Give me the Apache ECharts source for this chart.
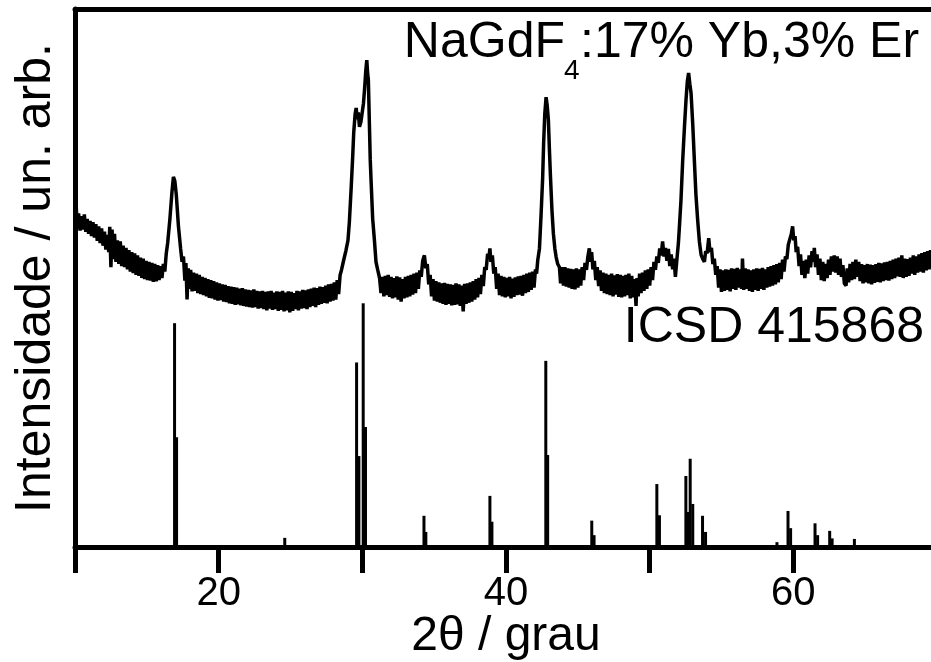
<!DOCTYPE html>
<html>
<head>
<meta charset="utf-8">
<script src="https://cdn.jsdelivr.net/npm/echarts@6/dist/echarts.min.js"></script>
<style>
html,body{margin:0;padding:0;background:#fff;overflow:hidden;}
#chart{width:931px;height:662px;}
</style>
</head>
<body>
<div id="chart"></div>
<script>
// ---- data ----
var xTicks = [20, 40, 60];
var xLabelName = '2\u03b8 / grau';
var yLabelName = 'Intensidade / un. arb.';
var sampleLabelMain = 'NaGdF';
var sampleLabelSub = '4';
var sampleLabelRest = ':17% Yb,3% Er';
var refLabel = 'ICSD 415868';

// measured XRD pattern [2theta, intensity (arb.)]
var xrdPattern = [
[10.0,61.0],[10.08,63.5],[10.16,59.2],[10.25,62.0],[10.35,58.8],[10.45,61.5],[10.55,59.0],[10.65,61.8],[10.75,58.6],[10.85,61.0],
[10.95,58.2],[11.05,60.6],[11.15,57.8],[11.25,60.4],[11.35,57.5],[11.45,60.0],[11.55,56.9],[11.65,59.6],[11.75,56.5],[11.85,59.2],
[11.95,56.0],[12.05,58.6],[12.15,55.3],[12.25,58.0],[12.35,54.8],[12.42,59.5],[12.5,52.0],[12.58,59.0],[12.66,53.5],[12.75,58.2],
[12.85,53.0],[12.95,57.0],[13.05,52.6],[13.15,56.8],[13.25,52.2],[13.35,56.0],[13.45,52.0],[13.55,55.6],[13.65,51.6],[13.75,55.2],
[13.85,51.2],[13.95,54.8],[14.05,50.9],[14.15,54.6],[14.25,50.6],[14.35,54.2],[14.45,50.4],[14.55,53.8],[14.65,50.0],[14.75,53.6],
[14.85,49.8],[14.95,53.2],[15.05,49.6],[15.15,53.0],[15.25,49.5],[15.35,52.8],[15.45,49.3],[15.55,52.6],[15.65,49.4],[15.75,52.4],
[15.85,49.6],[15.95,52.2],[16.05,50.0],[16.15,52.6],[16.25,51.2],[16.35,54.5],[16.45,56.5],[16.6,60.8],[16.75,66.0],[16.85,68.8],
[16.95,68.0],[17.05,65.5],[17.2,59.6],[17.35,55.5],[17.45,53.0],[17.55,54.0],[17.65,49.5],[17.72,52.8],[17.8,46.0],[17.88,51.8],
[17.96,48.0],[18.05,51.5],[18.15,47.5],[18.25,51.0],[18.35,47.6],[18.45,50.8],[18.55,47.2],[18.65,50.6],[18.75,47.0],[18.85,50.2],
[18.95,46.8],[19.05,50.0],[19.15,46.6],[19.25,49.8],[19.35,46.3],[19.45,49.6],[19.55,46.2],[19.65,49.4],[19.75,46.0],[19.85,49.2],
[19.95,45.8],[20.05,49.0],[20.15,45.9],[20.25,48.8],[20.35,45.6],[20.45,48.7],[20.55,45.5],[20.65,48.5],[20.75,45.3],[20.85,48.4],
[20.95,45.2],[21.05,48.3],[21.15,45.0],[21.25,48.2],[21.35,45.1],[21.45,48.0],[21.55,44.9],[21.65,48.1],[21.75,44.8],[21.85,47.9],
[21.95,44.7],[22.05,47.8],[22.15,44.6],[22.25,47.7],[22.35,44.5],[22.45,47.9],[22.55,44.6],[22.65,47.6],[22.75,44.3],[22.85,47.5],
[22.95,44.4],[23.05,47.6],[23.15,44.2],[23.25,47.4],[23.35,44.0],[23.45,47.5],[23.55,44.3],[23.65,47.6],[23.75,44.1],[23.85,47.3],
[23.95,44.2],[24.05,47.5],[24.15,43.9],[24.25,47.4],[24.35,44.1],[24.45,47.6],[24.55,43.8],[24.65,47.3],[24.75,44.0],[24.85,47.5],
[24.95,43.6],[25.05,47.4],[25.15,43.9],[25.25,47.2],[25.35,44.2],[25.45,47.6],[25.55,44.0],[25.65,47.5],[25.75,44.3],[25.85,47.8],
[25.95,44.4],[26.05,47.7],[26.15,44.2],[26.25,47.9],[26.35,44.6],[26.45,48.0],[26.55,44.8],[26.65,48.2],[26.75,44.6],[26.85,48.1],
[26.95,45.0],[27.05,48.4],[27.15,45.2],[27.25,48.3],[27.35,45.4],[27.45,48.6],[27.55,45.3],[27.65,48.8],[27.75,45.6],[27.85,48.9],
[27.95,45.8],[28.05,49.2],[28.15,46.0],[28.25,49.6],[28.35,47.0],[28.45,50.5],[28.55,51.5],[28.7,53.3],[28.85,55.0],[29.0,57.0],
[29.1,60.5],[29.22,66.6],[29.32,72.0],[29.4,77.0],[29.5,80.5],[29.57,81.6],[29.65,79.5],[29.72,80.8],[29.8,78.1],[29.9,79.0],
[29.99,78.8],[30.08,82.5],[30.15,84.9],[30.24,88.5],[30.31,90.5],[30.37,88.0],[30.42,86.8],[30.49,78.8],[30.55,72.0],[30.61,68.0],
[30.72,61.0],[30.84,57.1],[30.95,53.0],[31.07,51.5],[31.2,50.0],[31.3,47.2],[31.4,50.2],[31.5,46.6],[31.6,50.4],[31.7,46.8],
[31.8,50.6],[31.9,46.5],[32.0,50.2],[32.1,46.2],[32.2,50.0],[32.3,46.4],[32.4,50.3],[32.5,46.0],[32.6,50.1],[32.7,45.6],
[32.8,49.8],[32.9,46.2],[33.0,50.2],[33.1,46.4],[33.2,50.4],[33.3,46.6],[33.4,50.6],[33.5,46.9],[33.6,50.8],[33.7,47.2],
[33.8,51.0],[33.9,48.0],[34.0,51.4],[34.1,50.2],[34.2,53.2],[34.32,54.2],[34.42,51.8],[34.52,52.6],[34.62,48.8],[34.72,50.6],
[34.82,46.6],[34.92,49.8],[35.02,45.8],[35.12,49.4],[35.22,45.6],[35.32,49.2],[35.42,45.4],[35.52,49.0],[35.62,45.2],[35.72,49.1],
[35.82,45.0],[35.92,48.9],[36.02,45.2],[36.12,48.8],[36.22,44.9],[36.32,48.7],[36.42,45.0],[36.52,49.0],[36.62,45.1],[36.72,48.8],
[36.82,44.8],[36.92,48.6],[37.02,43.8],[37.12,48.9],[37.22,45.2],[37.32,49.0],[37.42,45.4],[37.52,49.2],[37.62,45.6],[37.72,49.4],
[37.82,46.0],[37.92,49.8],[38.02,46.4],[38.12,50.0],[38.22,47.0],[38.32,50.6],[38.42,48.5],[38.52,52.0],[38.62,51.5],[38.72,54.5],
[38.82,54.0],[38.88,55.5],[38.95,53.0],[39.05,54.2],[39.15,50.8],[39.25,52.0],[39.35,48.0],[39.45,50.8],[39.55,46.8],[39.65,50.4],
[39.75,46.6],[39.85,50.2],[39.95,46.4],[40.05,50.0],[40.15,46.6],[40.25,50.2],[40.35,46.2],[40.45,49.9],[40.55,46.5],[40.65,50.1],
[40.75,46.8],[40.85,50.3],[40.95,46.9],[41.05,50.4],[41.15,46.7],[41.25,50.6],[41.35,47.2],[41.45,50.8],[41.55,47.4],[41.65,51.0],
[41.75,47.8],[41.85,51.2],[41.95,48.2],[42.05,51.6],[42.13,50.8],[42.21,53.3],[42.33,55.5],[42.44,61.7],[42.55,68.5],[42.62,75.1],
[42.7,80.5],[42.79,83.6],[42.87,82.0],[42.95,79.4],[43.02,74.0],[43.09,69.2],[43.2,62.5],[43.3,58.2],[43.4,55.5],[43.49,53.9],
[43.6,52.6],[43.72,52.0],[43.8,49.0],[43.9,52.0],[44.0,48.6],[44.1,52.0],[44.2,48.4],[44.3,51.8],[44.4,48.2],[44.5,51.7],
[44.6,48.0],[44.7,51.6],[44.8,47.9],[44.9,51.8],[45.0,48.2],[45.1,51.6],[45.2,48.6],[45.3,52.0],[45.4,49.6],[45.5,52.8],
[45.6,51.5],[45.7,54.0],[45.8,55.5],[45.88,53.0],[45.96,54.8],[46.05,51.6],[46.15,53.2],[46.25,49.6],[46.35,52.0],[46.45,48.5],
[46.55,51.4],[46.65,47.6],[46.75,51.0],[46.85,47.2],[46.95,50.8],[47.05,47.0],[47.15,50.6],[47.25,46.8],[47.35,50.8],[47.45,46.6],
[47.55,50.5],[47.65,46.9],[47.75,50.7],[47.85,46.5],[47.95,50.6],[48.05,46.4],[48.15,50.4],[48.25,46.6],[48.35,50.6],[48.45,46.8],
[48.55,50.8],[48.65,46.2],[48.75,50.4],[48.85,46.4],[48.95,49.8],[49.05,44.8],[49.12,50.0],[49.2,46.6],[49.3,50.8],[49.4,47.2],
[49.5,51.0],[49.6,47.6],[49.7,51.4],[49.8,48.0],[49.9,51.6],[50.0,48.6],[50.1,52.0],[50.2,49.6],[50.3,53.0],[50.4,51.5],
[50.5,54.0],[50.6,52.8],[50.7,55.5],[50.8,54.2],[50.9,56.8],[51.0,54.0],[51.1,55.6],[51.2,53.2],[51.3,55.4],[51.4,52.2],
[51.5,54.4],[51.6,51.6],[51.7,53.6],[51.79,50.2],[51.9,53.6],[52.0,56.5],[52.07,59.5],[52.18,64.5],[52.3,71.9],[52.42,78.0],
[52.53,83.1],[52.62,86.5],[52.71,88.1],[52.8,86.0],[52.88,84.4],[53.0,78.5],[53.11,71.9],[53.22,65.5],[53.34,60.8],[53.46,56.8],
[53.58,54.3],[53.7,53.5],[53.81,53.0],[53.9,55.0],[54.0,54.6],[54.11,57.4],[54.2,54.8],[54.3,55.6],[54.4,52.6],[54.5,53.6],
[54.6,50.6],[54.7,52.2],[54.8,48.2],[54.9,51.6],[55.0,47.4],[55.1,51.4],[55.2,47.6],[55.3,51.6],[55.4,47.8],[55.5,51.5],
[55.6,47.5],[55.7,51.8],[55.8,48.0],[55.9,51.7],[56.0,47.8],[56.1,51.9],[56.2,48.2],[56.3,51.6],[56.4,48.0],[56.46,53.6],
[56.55,47.8],[56.65,51.8],[56.75,48.0],[56.85,51.6],[56.95,47.6],[57.05,51.4],[57.15,47.4],[57.25,51.6],[57.35,47.8],[57.45,51.8],
[57.55,47.6],[57.65,51.7],[57.75,48.0],[57.85,51.9],[57.95,47.8],[58.05,51.6],[58.15,48.2],[58.25,52.0],[58.35,48.4],[58.45,52.2],
[58.55,48.6],[58.65,52.4],[58.75,48.8],[58.85,52.6],[58.95,49.2],[59.05,52.8],[59.15,49.8],[59.25,53.4],[59.35,51.2],[59.45,54.0],
[59.55,53.5],[59.65,56.2],[59.75,56.0],[59.86,58.2],[59.95,59.6],[60.03,57.0],[60.12,57.8],[60.2,54.8],[60.3,55.8],[60.4,52.2],
[60.5,54.4],[60.6,50.6],[60.7,53.2],[60.8,50.0],[60.9,53.4],[61.0,50.8],[61.1,54.2],[61.2,52.0],[61.3,55.0],[61.4,53.0],
[61.46,55.6],[61.55,52.0],[61.65,54.4],[61.75,50.6],[61.85,53.6],[61.95,49.6],[62.05,53.0],[62.15,49.4],[62.25,52.6],[62.35,50.0],
[62.45,53.4],[62.55,50.6],[62.65,54.0],[62.75,51.2],[62.85,54.2],[62.95,51.0],[63.05,54.0],[63.15,50.6],[63.25,53.6],[63.35,50.2],
[63.45,52.4],[63.55,49.0],[63.67,48.6],[63.75,51.8],[63.85,49.2],[63.95,52.6],[64.05,49.6],[64.15,53.0],[64.25,49.8],[64.35,53.4],
[64.47,50.2],[64.55,53.0],[64.65,49.4],[64.75,52.6],[64.85,49.0],[64.95,52.4],[65.05,49.2],[65.15,52.6],[65.25,49.0],[65.35,52.5],
[65.45,48.8],[65.55,52.4],[65.65,49.1],[65.75,52.6],[65.85,49.3],[65.95,52.8],[66.05,49.2],[66.15,52.7],[66.25,49.4],[66.35,52.9],
[66.45,49.6],[66.55,53.0],[66.65,49.5],[66.75,53.2],[66.85,49.8],[66.95,53.4],[67.05,50.0],[67.15,53.6],[67.25,50.3],[67.35,53.8],
[67.45,50.2],[67.55,54.2],[67.65,50.0],[67.75,53.6],[67.85,50.2],[67.95,53.5],[68.05,50.4],[68.15,53.8],[68.25,50.8],[68.35,54.2],
[68.45,50.6],[68.55,54.0],[68.65,51.0],[68.75,54.4],[68.85,51.2],[68.95,54.6],[69.05,51.0],[69.15,54.8],[69.25,51.4],[69.35,55.0],
[69.45,51.6],[69.55,55.2],[69.65,51.8],[69.75,55.0],[69.85,52.0],[69.95,55.3],[70.0,53.0]
];

// ICSD 415868 reference reflections [2theta, relative intensity]
var icsdPeaks = [
[16.93,41.6],[17.07,20.4],[24.6,1.7],[29.6,34.3],[29.76,16.9],[30.06,45.3],[30.22,22.3],[34.29,5.8],[34.42,2.8],
[38.88,9.5],[39.02,4.7],[42.77,34.6],[42.9,17.1],[45.97,4.9],[46.13,2.2],[50.5,11.7],[50.68,5.9],[52.52,13.2],
[52.68,6.5],[52.82,16.4],[53.0,8.0],[53.68,5.8],[53.89,2.8],[58.86,0.9],[59.63,6.7],[59.81,3.5],[61.51,4.4],
[61.69,2.2],[62.53,3.0],[62.7,1.6],[64.25,1.5]
];

var FONT = '"Liberation Sans", Arial, sans-serif';
var chart = echarts.init(document.getElementById('chart'), null, {renderer: 'canvas'});
chart.setOption({
  backgroundColor: '#ffffff',
  animation: false,
  grid: {left: 75, top: 9, width: 862, height: 538, containLabel: false, outerBoundsMode: 'none'},
  xAxis: [{
    type: 'value', min: 10, max: 70, interval: 10,
    name: xLabelName, nameLocation: 'middle', nameGap: 66, nameMoveOverlap: false,
    nameTextStyle: {fontFamily: FONT, fontSize: 48, color: '#000'},
    axisLine: {show: true, onZero: false, lineStyle: {color: '#000', width: 5}},
    axisTick: {show: true, inside: false, length: 26, lineStyle: {color: '#000', width: 5}},
    axisLabel: {show: true, margin: 27, fontFamily: FONT, fontSize: 40, color: '#000',
      formatter: function (v) { return xTicks.indexOf(v) >= 0 ? String(v) : ''; }},
    splitLine: {show: false}
  }, {
    type: 'value', min: 10, max: 70, position: 'top',
    axisLine: {show: true, onZero: false, lineStyle: {color: '#000', width: 5}},
    axisTick: {show: false}, axisLabel: {show: false}, splitLine: {show: false}
  }],
  yAxis: {
    type: 'value', min: 0, max: 100,
    name: yLabelName, nameLocation: 'middle', nameGap: 14, nameMoveOverlap: false,
    nameTextStyle: {fontFamily: FONT, fontSize: 50, color: '#000'},
    axisLine: {show: true, onZero: false, lineStyle: {color: '#000', width: 5}},
    axisTick: {show: false}, axisLabel: {show: false}, splitLine: {show: false}
  },
  series: [{
    type: 'line', data: xrdPattern, showSymbol: false, symbol: 'none',
    lineStyle: {color: '#000', width: 3.5}, clip: true, z: 3
  }, {
    type: 'bar', data: icsdPeaks, barWidth: 3, itemStyle: {color: '#000'}, z: 2
  }],
  graphic: [
    {type: 'text', x: 565, y: 43, style: {text: sampleLabelMain, font: '50px ' + FONT, fill: '#000', textAlign: 'right', textVerticalAlign: 'middle'}},
    {type: 'text', x: 564, y: 71, style: {text: sampleLabelSub, font: '28px ' + FONT, fill: '#000', textAlign: 'left', textVerticalAlign: 'middle'}},
    {type: 'text', x: 580, y: 43, style: {text: sampleLabelRest, font: '50px ' + FONT, fill: '#000', textAlign: 'left', textVerticalAlign: 'middle'}},
    {type: 'text', x: 924, y: 328, style: {text: refLabel, font: '50px ' + FONT, fill: '#000', textAlign: 'right', textVerticalAlign: 'middle'}}
  ]
});
</script>
</body>
</html>
